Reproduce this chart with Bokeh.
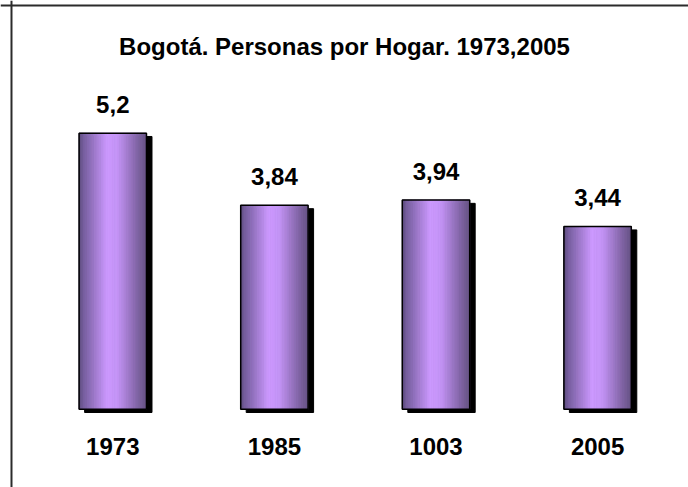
import numpy as np
from bokeh.plotting import figure
from bokeh.models import Range1d, Span, Label, ColumnDataSource
from bokeh.embed import file_html
from bokeh.resources import INLINE
from bokeh.core.properties import value

title_text = "Bogotá. Personas por Hogar. 1973,2005"
categories = ["1973", "1985", "1003", "2005"]
values = [5.2, 3.84, 3.94, 3.44]
value_labels = ["5,2", "3,84", "3,94", "3,44"]

W, H = 688, 487
FONT = value("Liberation Sans")

p = figure(width=W, height=H, output_backend="svg", toolbar_location=None,
           x_range=Range1d(-0.6949, 3.5625), y_range=Range1d(-1.4751, 7.6997),
           x_axis_location=None, y_axis_location=None, min_border=0)
p.grid.visible = False
p.outline_line_color = None
p.background_fill_color = "white"
p.border_fill_color = "white"

xs = np.arange(len(categories), dtype=float)
bw = 0.417
dx, dy = 0.034, -0.062

# shadow
p.quad(left=xs - bw / 2 + dx, right=xs + bw / 2 + dx,
       bottom=np.full(len(xs), dy), top=np.array(values) + dy,
       fill_color="black", line_color="black")

# gradient strips (styling only)
n = 48
stops_t = [0.0, 0.07, 0.42, 0.58, 0.88, 1.0]
stops_c = np.array([(88, 70, 118), (118, 94, 158), (204, 153, 255),
                    (196, 148, 246), (128, 100, 164), (104, 84, 134)], float)
L, R, T, B, C = [], [], [], [], []
for i, v in enumerate(values):
    x0 = xs[i] - bw / 2
    for k in range(n):
        t = (k + 0.5) / n
        c = [int(round(np.interp(t, stops_t, stops_c[:, j]))) for j in range(3)]
        L.append(x0 + k * bw / n)
        R.append(x0 + (k + 1) * bw / n)
        B.append(0.0)
        T.append(v)
        C.append("#%02x%02x%02x" % tuple(c))
src = ColumnDataSource(dict(left=L, right=R, top=T, bottom=B, color=C))
p.quad(left="left", right="right", top="top", bottom="bottom",
       fill_color="color", line_color="color", line_width=1, source=src)

# outline
p.quad(left=xs - bw / 2, right=xs + bw / 2, bottom=np.zeros(len(xs)),
       top=values, fill_color=None, line_color="black", line_width=1.5)

# value labels
p.text(x=xs, y=values, text=value_labels, text_align="center",
       text_baseline="alphabetic", y_offset=-29, text_font=FONT,
       text_font_style="bold", text_font_size="24px", text_color="black")

# category labels
p.text(x=xs, y=np.zeros(len(xs)), text=categories, text_align="center",
       text_baseline="alphabetic", y_offset=37, text_font=FONT,
       text_font_style="bold", text_font_size="24px", text_color="black")

# title
p.add_layout(Label(x=1.4338, y=6.84, text=title_text, text_align="center",
                   text_baseline="alphabetic", text_font="Liberation Sans",
                   text_font_style="bold", text_font_size="24px",
                   text_color="black"))

# chart border (left and top visible)
p.add_layout(Span(location=-0.6269, dimension="height",
                  line_color="#2b2b2b", line_width=2))
p.add_layout(Span(location=7.6055, dimension="width",
                  line_color="#2b2b2b", line_width=2))

open("out.html", "w").write(file_html(p, INLINE))
